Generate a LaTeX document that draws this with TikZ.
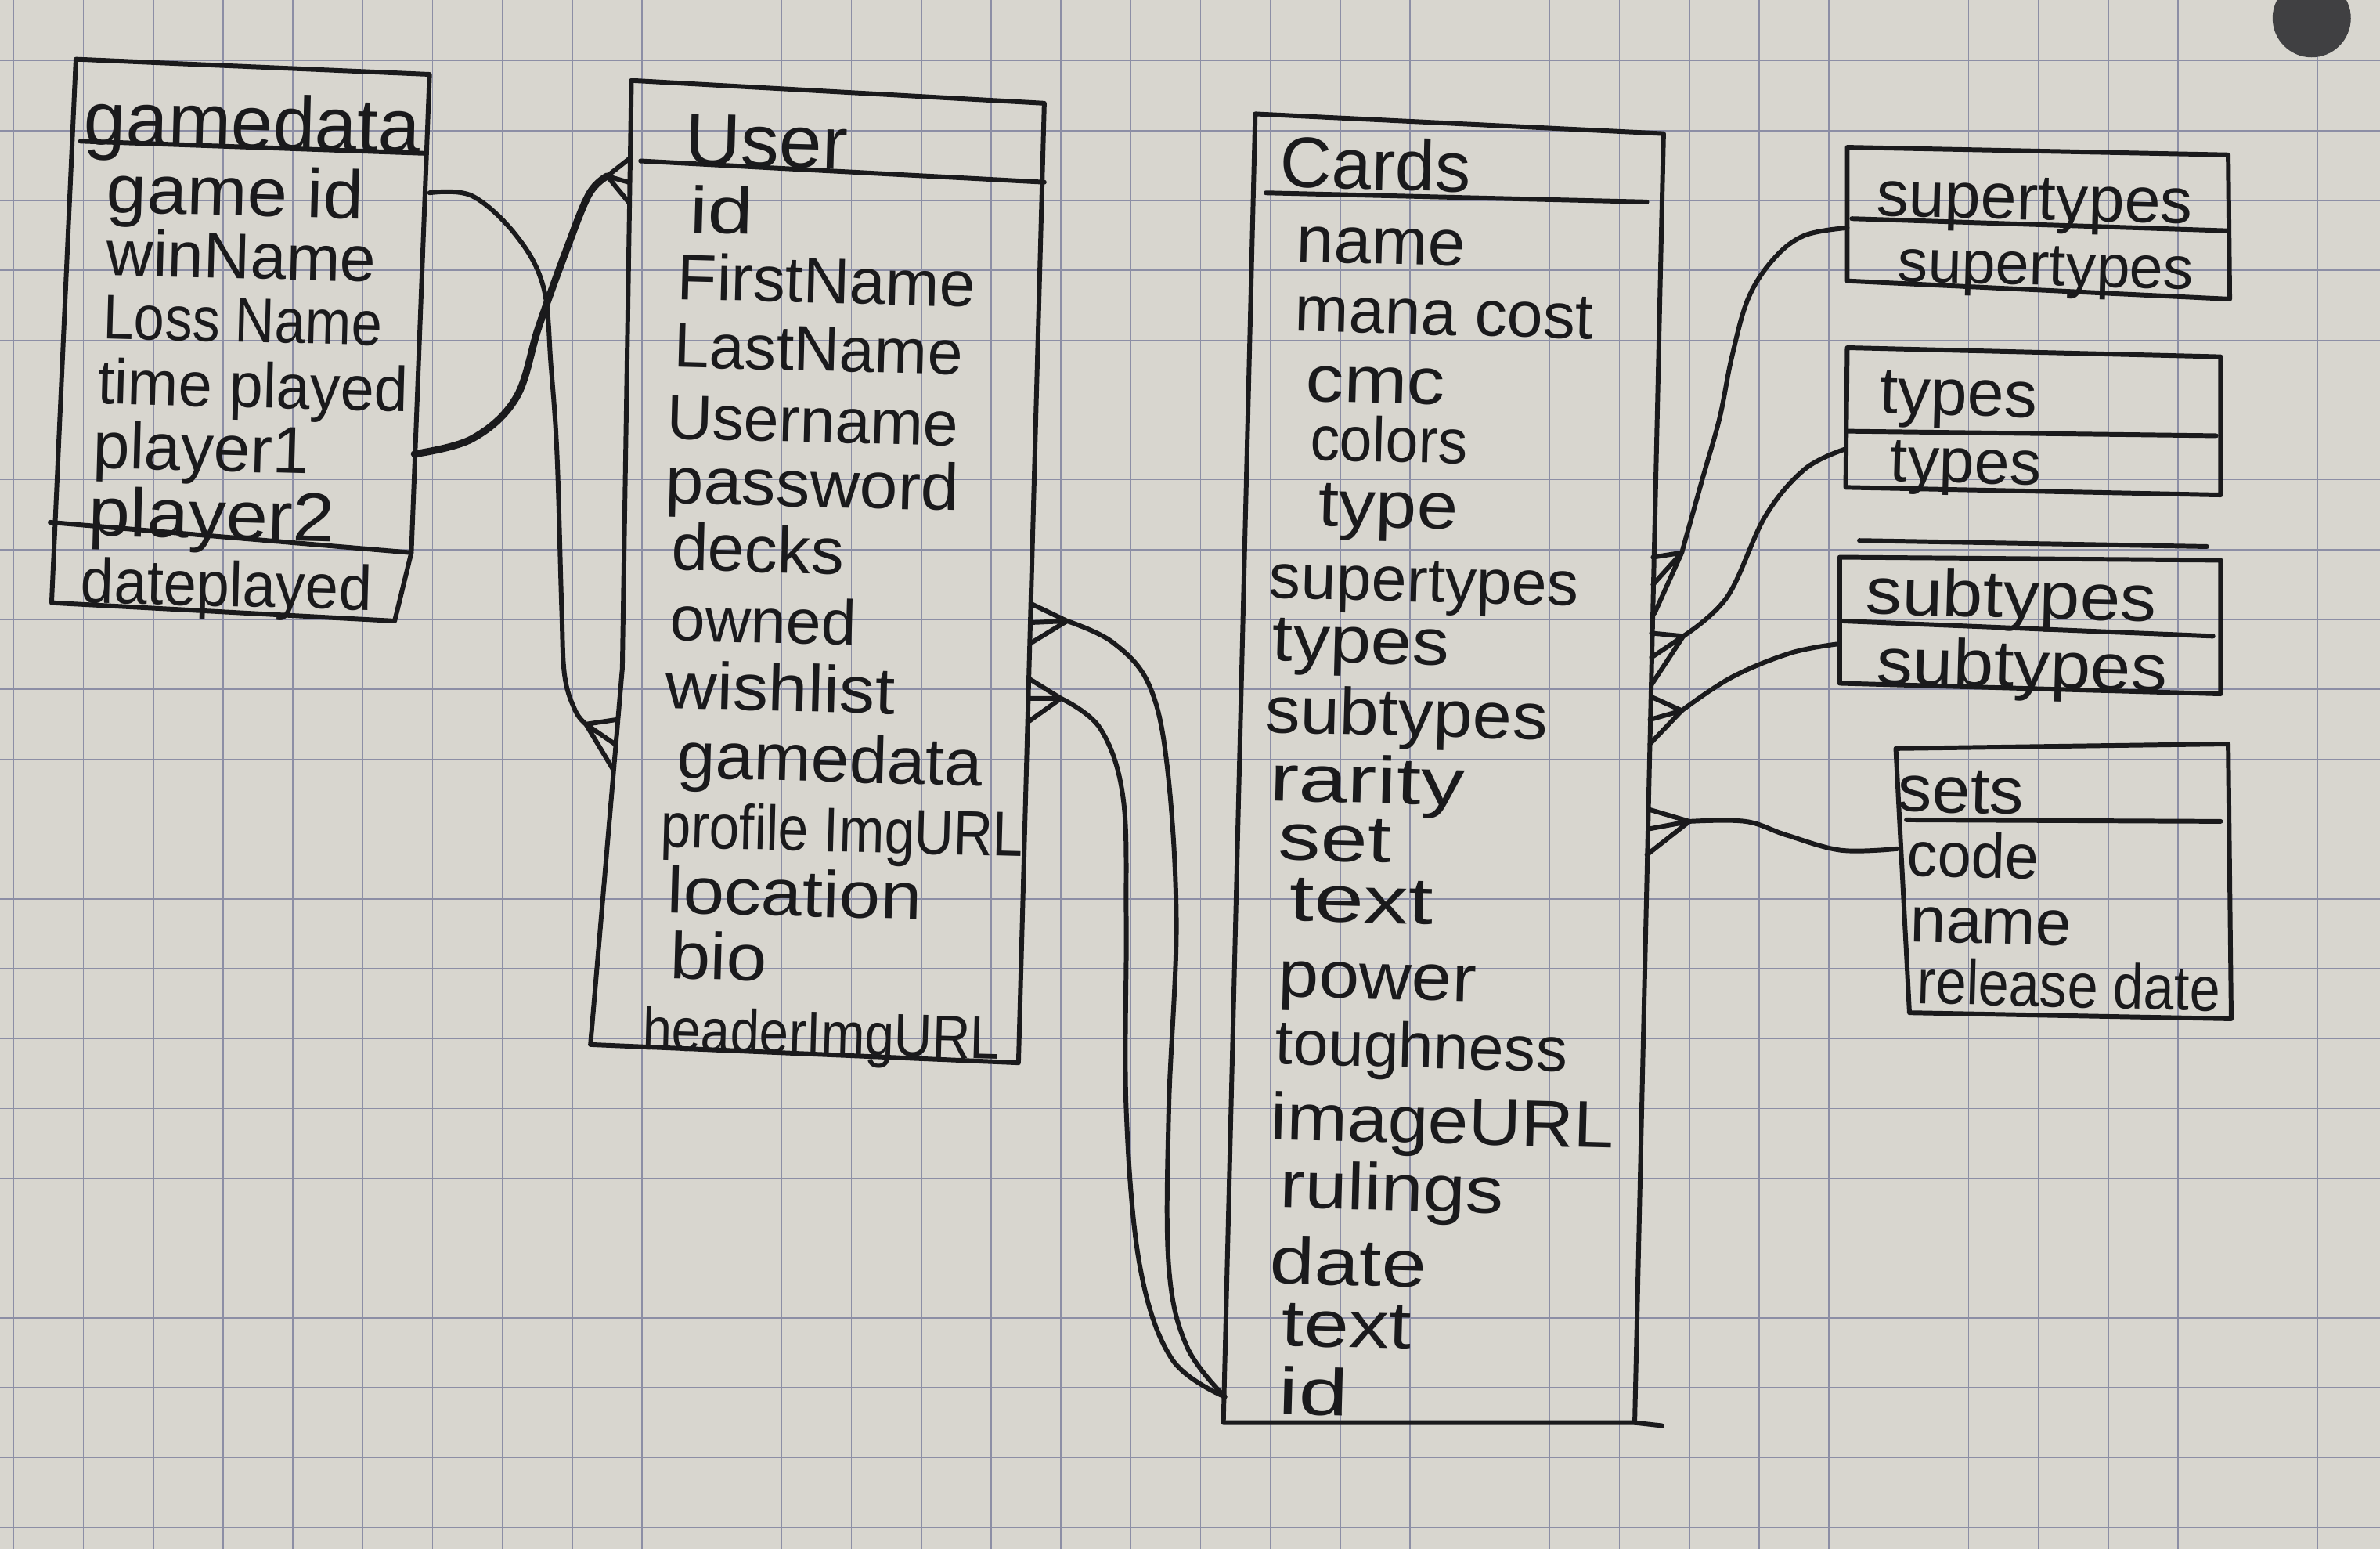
\documentclass[tikz,border=0pt]{standalone}
\usepackage{fontspec}
\setmainfont{Liberation Sans}
\definecolor{paper}{RGB}{216,214,207}
\definecolor{gridc}{RGB}{140,142,165}
\definecolor{inkc}{RGB}{26,26,28}
\definecolor{holec}{RGB}{64,64,66}
\newcommand\fs[1]{\fontsize{#1}{#1}\selectfont}
\def\crowfoot(#1)(#2)(#3)(#4){\draw[ink] (#2) -- (#1) -- (#4) (#1) -- (#3);}
\tikzset{
	ink/.style={draw=inkc, line width=1.7pt, line cap=round, line join=round},
	paperline/.style={draw=gridc, line width=0.45pt},
	field/.style={anchor=base west, inner sep=0pt, text=inkc, rotate=-1.5, yshift={-0.26*#1pt}, font=\fs{#1}},
	field/.default=24,
	wider/.style={xscale=#1}
}

\begin{document}
\begin{tikzpicture}[x=0.01939cm, y=-0.01939cm]
		%%%%% PAPER %%%%%
		\fill[paper] (0,0) rectangle (1568,1020);
		\useasboundingbox (0,0) rectangle (1568,1020);
		\foreach \i in {0,...,34}
			\draw[paperline] ({9+46*\i},0) -- ({9+46*\i},1020);
		\foreach \j in {1,...,22}
			\draw[paperline] (0,{-6+46*\j}) -- (1568,{-6+46*\j});
		\fill[holec] (1523,12) circle[radius=0.5cm];
		
		%%%%% gamedata %%%%%
		\draw[ink] (50,39) -- (283,49) -- (271,364) -- (260,409) -- (34,397) -- cycle;
		\draw[ink] (53,93) -- (280,101);
		\draw[ink] (33,344) -- (271,364);
		\node[field=27.5] (gd-title) at (55,82) {gamedata};
		\node[field=25, wider=1.05] (gd-gameid) at (70,128) {game id};
		\node[field=23.5] (gd-winname) at (70,170) {winName};
		\node[field=23, wider=0.87] (gd-lossname) at (68,212) {Loss Name};
		\node[field=23, wider=0.96] (gd-time) at (64,255) {time played};
		\node[field=24] (gd-player1) at (61,297) {player1};
		\node[field=25, wider=1.09] (gd-player2) at (58,341) {player2};
		\node[field=23, wider=0.94] (gd-date) at (53,386) {dateplayed};
		
		%%%%% User %%%%%
		\draw[ink] (416,53) -- (688,68) -- (671,700) -- (389,688) -- (410,440) -- cycle;
		\draw[ink] (422,106) -- (688,120);
		\node[field=27, wider=1.04] (u-title) at (451,96) {User};
		\node[field=24, wider=1.24] (u-id) at (454,142) {id};
		\node[field=23.5] (u-first) at (446,186) {FirstName};
		\node[field=23] (u-last) at (444,231) {LastName};
		\node[field=23] (u-username) at (439,278) {Username};
		\node[field=24, wider=1.04] (u-password) at (438,320) {password};
		\node[field=24] (u-decks) at (442,364) {decks};
		\node[field=23] (u-owned) at (441,411) {owned};
		\node[field=24, wider=1.08] (u-wishlist) at (438,455) {wishlist};
		\node[field=24, wider=1.04] (u-gamedata) at (446,501) {gamedata};
		\node[field=23, wider=0.86] (u-profile) at (435,547) {profile ImgURL};
		\node[field=24, wider=1.12] (u-location) at (439,590) {location};
		\node[field=24, wider=1.1] (u-bio) at (441,633) {bio};
		\node[field=22, wider=0.87] (u-header) at (423,681) {headerImgURL};
		
		%%%%% Cards %%%%%
		\draw[ink] (827,75) -- (1096,88) -- (1077,937) -- (806,937) -- cycle;
		\draw[ink] (1077,937) -- (1095,939);
		\draw[ink] (834,127) -- (1085,133);
		\node[field=26] (c-title) at (843,111) {Cards};
		\node[field=24, wider=1.02] (c-name) at (854,161) {name};
		\node[field=23.5] (c-mana) at (853,207) {mana cost};
		\node[field=24, wider=1.15] (c-cmc) at (860,253) {cmc};
		\node[field=23, wider=0.93] (c-colors) at (863,292) {colors};
		\node[field=24, wider=1.12] (c-type) at (868,335) {type};
		\node[field=23] (c-super) at (836,383) {supertypes};
		\node[field=24, wider=1.12] (c-types) at (838,424) {types};
		\node[field=24, wider=1.07] (c-sub) at (833,471) {subtypes};
		\node[field=24, wider=1.33] (c-rarity) at (836,516) {rarity};
		\node[field=24, wider=1.28] (c-set) at (842,555) {set};
		\node[field=24, wider=1.35] (c-text) at (849,595) {text};
		\node[field=24, wider=1.1] (c-power) at (842,645) {power};
		\node[field=23] (c-tough) at (840,690) {toughness};
		\node[field=24, wider=1.1] (c-image) at (837,739) {imageURL};
		\node[field=24, wider=1.15] (c-rulings) at (843,784) {rulings};
		\node[field=24, wider=1.22] (c-date) at (836,834) {date};
		\node[field=24, wider=1.22] (c-text2) at (844,875) {text};
		\node[field=24, wider=1.35] (c-id) at (842,920) {id};
		
		%%%%% supertypes / types / subtypes / sets %%%%%
		\draw[ink] (1217,97) -- (1468,102) -- (1469,197) -- (1217,185) -- cycle;
		\draw[ink] (1220,144) -- (1468,152);
		\node[field=23.5] (st-title) at (1236,131) {supertypes};
		\node[field=22] (st-super) at (1250,175) {supertypes};
		
		\draw[ink] (1217,229) -- (1463,235) -- (1463,326) -- (1216,321) -- cycle;
		\draw[ink] (1217,284) -- (1460,287);
		\node[field=24] (ty-title) at (1238,261) {types};
		\node[field=23] (ty-types) at (1245,306) {types};
		
		\draw[ink] (1225,356) -- (1454,360);
		\draw[ink] (1212,367) -- (1463,369) -- (1463,457) -- (1212,450) -- cycle;
		\draw[ink] (1214,409) -- (1458,419);
		\node[field=24, wider=1.1] (sb-title) at (1229,393) {subtypes};
		\node[field=24, wider=1.1] (sb-sub) at (1236,439) {subtypes};
		
		\draw[ink] (1249,493) -- (1468,490) -- (1470,671) -- (1258,667) -- cycle;
		\draw[ink] (1256,540) -- (1463,541);
		\node[field=24, wider=1.04] (se-title) at (1250,523) {sets};
		\node[field=23, wider=0.96] (se-code) at (1256,566) {code};
		\node[field=23.5] (se-name) at (1258,609) {name};
		\node[field=23, wider=0.87] (se-release) at (1263,650) {release date};
		
		%%%%% CONNECTORS %%%%%
		\coordinate (gd-gameid-r) at (283,127);
		\coordinate (gd-player1-r) at (273,299);
		\coordinate (u-id-cf) at (400,116);
		\coordinate (u-gd-cf) at (386,477);
		\coordinate (u-owned-cf) at (703,409);
		\coordinate (u-wish-cf) at (699,460);
		\coordinate (c-id-l) at (807,920);
		\coordinate (c-super-cf) at (1108,364);
		\coordinate (c-types-cf) at (1109,419);
		\coordinate (c-sub-cf) at (1108,468);
		\coordinate (c-set-cf) at (1113,541);
		\coordinate (st-l) at (1217,150);
		\coordinate (ty-l) at (1215,296);
		\coordinate (sb-l) at (1212,424);
		\coordinate (se-l) at (1250,559);
		
		\draw[ink] plot[smooth, tension=0.6] coordinates {(gd-gameid-r) (311,129) (340,155) (358,189) (363,241) (367,300) (370,400) (372,445) (379,468) (u-gd-cf)};
		\crowfoot(u-gd-cf)(406,474)(405,490)(404,507)
		\draw[ink, line width=2.6pt] plot[smooth, tension=0.6] coordinates {(gd-player1-r) (311,289) (340,262) (355,215) (373,165) (388,128) (u-id-cf)};
		\crowfoot(u-id-cf)(414,105)(414,120)(414,133)
		
		\draw[ink] plot[smooth, tension=0.6] coordinates {(u-owned-cf) (733,423) (757,451) (769,505) (775,608) (770,731) (770,834) (782,887) (c-id-l)};
		\crowfoot(u-owned-cf)(680,398)(680,410)(680,423)
		\draw[ink] plot[smooth, tension=0.6] coordinates {(u-wish-cf) (725,480) (740,526) (742,608) (742,731) (751,834) (772,895) (c-id-l)};
		\crowfoot(u-wish-cf)(678,447)(678,460)(678,475)
		
		\draw[ink] plot[smooth, tension=0.6] coordinates {(c-super-cf) (1122,314) (1133,275) (1141,235) (1152,196) (1169,170) (1189,155) (st-l)};
		\crowfoot(c-super-cf)(1089,367)(1089,385)(1090,404)
		\draw[ink] plot[smooth, tension=0.6] coordinates {(c-types-cf) (1138,393) (1163,340) (1189,309) (ty-l)};
		\crowfoot(c-types-cf)(1088,417)(1088,433)(1088,451)
		\draw[ink] plot[smooth, tension=0.6] coordinates {(c-sub-cf) (1141,446) (1180,430) (sb-l)};
		\crowfoot(c-sub-cf)(1088,459)(1087,474)(1087,490)
		\draw[ink] plot[smooth, tension=0.6] coordinates {(c-set-cf) (1150,541) (1177,550) (1213,560) (se-l)};
		\crowfoot(c-set-cf)(1086,533)(1086,546)(1085,563)
	\end{tikzpicture}
\end{document}
